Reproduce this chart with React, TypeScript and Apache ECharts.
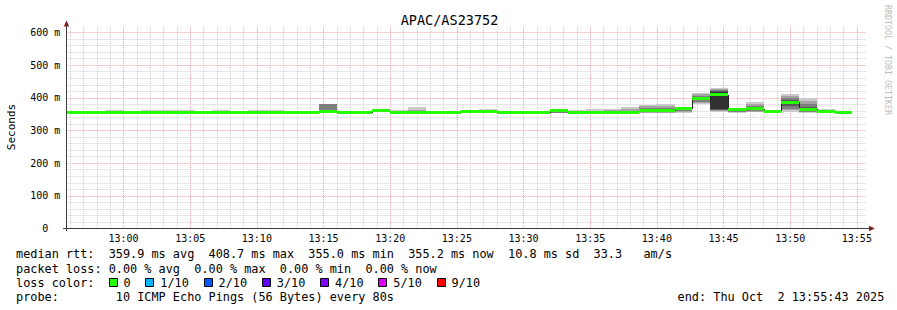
import React, { useEffect, useRef } from 'react';
import * as echarts from 'echarts';

// ---------- data ----------
const chartTitle = 'APAC/AS23752';
const axisStart = '12:55:43';
const axisEnd = '13:55:43';
const firstStepStart = '12:54:40'; // partial first step, clipped at the axis start
const stepSeconds = 80;

// median rtt per 80 s step (ms)
const medians = [
  355, 355.5, 355.5, 355.5, 355.5, 355.5, 355.5, 355, 355, 355.5, 355, 355.5, 355.5, 355, 355,
  357, 355, 355, 360, 355.5, 355.5, 355, 355, 357, 357, 355, 355, 355, 361, 356,
  355, 355, 356, 360, 361, 366, 397, 408.7, 365, 366, 359, 387, 365, 357.5, 355.2,
];

// 10 sorted ping rtts per step (ms) -> smoke
const pings = [
  [354, 355, 355, 355, 355, 355, 355, 356, 356, 357],
  [355, 355, 355, 355, 355, 356, 356, 356, 357, 358],
  [355, 355, 355, 355, 355, 356, 356, 356, 357, 358],
  [355, 355, 355, 355, 355, 356, 356, 357, 358, 362],
  [355, 355, 355, 355, 355, 356, 356, 356, 357, 358],
  [355, 355, 355, 355, 355, 356, 356, 357, 358, 362],
  [355, 355, 355, 355, 355, 356, 356, 357, 358, 362],
  [355, 355, 355, 355, 355, 356, 356, 357, 358, 362],
  [355, 355, 355, 355, 355, 355, 356, 356, 356, 357],
  [355, 355, 355, 355, 355, 356, 356, 357, 358, 362],
  [355, 355, 355, 355, 355, 355, 356, 356, 356, 357],
  [355, 355, 355, 355, 355, 356, 356, 357, 358, 362],
  [355, 355, 355, 355, 355, 356, 356, 357, 358, 362],
  [355, 355, 355, 355, 355, 355, 356, 356, 356, 357],
  [355, 355, 355, 355, 355, 355, 356, 356, 356, 357],
  [355, 355, 356, 356, 357, 357, 357, 381, 381, 381],
  [355, 355, 355, 355, 355, 355, 355, 356, 356, 357],
  [355, 355, 355, 355, 355, 355, 355, 356, 356, 357],
  [357, 358, 359, 359, 360, 360, 360, 361, 362, 363],
  [355, 355, 355, 355, 355, 356, 356, 357, 360, 363],
  [355, 355, 355, 355, 355, 356, 356, 358, 362, 372],
  [355, 355, 355, 355, 355, 355, 355, 356, 356, 357],
  [355, 355, 355, 355, 355, 355, 355, 356, 356, 357],
  [355, 356, 356, 357, 357, 358, 363, 363, 363, 363],
  [355, 355, 356, 356, 357, 357, 358, 359, 362, 367],
  [355, 355, 355, 355, 355, 355, 355, 356, 356, 357],
  [355, 355, 355, 355, 355, 355, 355, 356, 356, 357],
  [355, 355, 355, 355, 355, 355, 355, 356, 356, 357],
  [355, 355, 355, 356, 359, 363, 363, 364, 364, 365],
  [355, 355, 355, 356, 356, 356, 357, 358, 360, 363],
  [355, 355, 355, 355, 355, 355, 356, 357, 360, 367],
  [355, 355, 355, 355, 355, 355, 356, 358, 362, 367],
  [354, 355, 355, 355, 356, 356, 357, 359, 365, 373],
  [354, 355, 356, 358, 359, 361, 363, 370, 374, 377],
  [353, 354, 356, 358, 360, 362, 364, 368, 375, 380],
  [355, 357, 360, 363, 365, 367, 368, 370, 372, 373],
  [382, 384, 388, 392, 396, 398, 401, 405, 411, 415],
  [357, 360, 362, 364, 366, 418, 421, 424, 427, 430],
  [355, 356, 358, 360, 362, 366, 367, 368, 368, 369],
  [356, 358, 361, 363, 365, 367, 370, 376, 382, 387],
  [354, 355, 356, 357, 358, 360, 361, 362, 363, 364],
  [358, 362, 366, 375, 383, 390, 394, 400, 406, 411],
  [355, 356, 358, 361, 364, 366, 371, 380, 390, 401],
  [355, 355, 356, 356, 357, 358, 359, 360, 363, 367],
  [355, 355, 355, 355, 355, 355, 356, 356, 356, 357],
];

const medianColor = '#26ff00'; // loss 0 in every step
const smokeShades = ['#cacaca', '#a4a4a4', '#7e7e7e', '#585858', '#323232'];

const yMajorTicks = [0, 100, 200, 300, 400, 500, 600];
const yMinorTicks = [
  20, 40, 60, 80, 120, 140, 160, 180, 220, 240, 260, 280, 320, 340, 360, 380,
  420, 440, 460, 480, 520, 540, 560, 580,
];
const xMajorTicks = ['13:00', '13:05', '13:10', '13:15', '13:20', '13:25', '13:30', '13:35', '13:40', '13:45', '13:50', '13:55'];
const minorGridStep = 60; // one vertical minor grid line per minute

const legendRow1 = 'median rtt:  359.9 ms avg  408.7 ms max  355.0 ms min  355.2 ms now  10.8 ms sd  33.3   am/s';
const legendRow2 = 'packet loss: 0.00 % avg  0.00 % max  0.00 % min  0.00 % now';
const legendRow3 = 'loss color:';
const legendRow4 = 'probe:        10 ICMP Echo Pings (56 Bytes) every 80s';
const endText = 'end: Thu Oct  2 13:55:43 2025';
const lossLabels = ['0', '1/10', '2/10', '3/10', '4/10', '5/10', '9/10'];
const lossColors = ['#26ff00', '#00b8ff', '#0059ff', '#5e00ff', '#7e00ff', '#dd00ff', '#ff0000'];
const watermark = 'RRDTOOL / TOBI OETIKER';
const yAxisTitle = 'Seconds';

// ---------- helpers ----------
const toSec = (s: string) => {
  const p = s.split(':').map(Number);
  return p[0] * 3600 + p[1] * 60 + (p[2] || 0);
};
const fmtHM = (v: number) => {
  const h = Math.floor(v / 3600);
  const m = Math.floor((v % 3600) / 60);
  return `${h}:${m < 10 ? '0' : ''}${m}`;
};

const MONO = '"DejaVu Sans Mono", "Liberation Mono", monospace';
const MINOR_GRID = '#d0d0d0';
const MAJOR_GRID = '#eda3a3';

export default function App() {
  const ref = useRef<HTMLDivElement>(null);

  useEffect(() => {
    if (!ref.current) return;
    const chart = echarts.init(ref.current, undefined, { renderer: 'svg', width: 897, height: 310 });

    const T0 = toSec(axisStart);
    const T1 = toSec(axisEnd);
    const s0 = toSec(firstStepStart);

    const smokeData = medians.map((_, i) => {
      const st = s0 + i * stepSeconds;
      return [st, st + stepSeconds, ...pings[i]];
    });
    const medianData = medians.map((m, i) => {
      const st = s0 + i * stepSeconds;
      return [st, st + stepSeconds, m];
    });

    const xMinor: number[] = [];
    for (let t = Math.ceil(T0 / minorGridStep) * minorGridStep; t < T1; t += minorGridStep) {
      if (t % 300 !== 0) xMinor.push(t);
    }
    const xMajor = xMajorTicks.map(toSec);

    const GRID_LEFT = 66.4;
    const GRID_TOP = 27;
    const GRID_W = 800;
    const GRID_H = 201.5;
    const YMAX = (600 * GRID_H) / 196;

    const CW = 7.134; // legend char advance
    const legendFont = `11.85px ${MONO}`;
    const rowY = [254.4, 268.6, 282.8, 297.0];

    const lossGraphics: any[] = [];
    let sqX = 108.5;
    lossLabels.forEach((lab, i) => {
      lossGraphics.push({
        type: 'rect', z: 100,
        shape: { x: Math.round(sqX) + 0.5, y: 278.5, width: 8, height: 8 },
        style: { fill: lossColors[i], stroke: '#000', lineWidth: 1 },
      });
      lossGraphics.push({
        type: 'text', z: 100, x: sqX + 15, y: rowY[2],
        style: { text: lab, font: legendFont, fill: '#000', textAlign: 'left', textVerticalAlign: 'middle', verticalAlign: 'middle' },
      });
      sqX += 29.7 + lab.length * CW;
    });

    const txt = (text: string, x: number, y: number, extra: any = {}) => ({
      type: 'text', z: 100, x, y,
      style: { text, font: legendFont, fill: '#000', textAlign: 'left', textVerticalAlign: 'middle', verticalAlign: 'middle', ...extra },
    });

    const option: any = {
      animation: false,
      backgroundColor: '#ffffff',
      grid: { left: GRID_LEFT, top: GRID_TOP, width: GRID_W, height: GRID_H, containLabel: false },
      xAxis: [
        {
          type: 'value', min: T0, max: T1, position: 'bottom',
          axisLine: { show: false },
          axisTick: { show: false, customValues: xMinor },
          axisLabel: { show: false, customValues: xMinor },
          splitLine: { show: true, lineStyle: { color: MINOR_GRID, width: 1, type: [1, 1] } },
        },
        {
          type: 'value', min: T0, max: T1, position: 'bottom',
          axisLine: { show: false },
          axisTick: { show: false, customValues: xMajor },
          axisLabel: {
            show: true, customValues: xMajor, margin: 5,
            formatter: (v: number) => fmtHM(v),
            color: '#000', fontFamily: MONO, fontSize: 10,
          },
          splitLine: { show: true, lineStyle: { color: MAJOR_GRID, width: 1, type: [1, 1] } },
        },
      ],
      yAxis: [
        {
          type: 'value', min: 0, max: YMAX, position: 'left',
          axisLine: { show: false },
          axisTick: { show: false, customValues: yMinorTicks },
          axisLabel: { show: false, customValues: yMinorTicks },
          splitLine: { show: true, lineStyle: { color: MINOR_GRID, width: 1, type: [1, 1] } },
        },
        {
          type: 'value', min: 0, max: YMAX, position: 'left',
          axisLine: { show: false },
          axisTick: { show: false, customValues: yMajorTicks },
          axisLabel: {
            show: true, customValues: yMajorTicks, margin: 6,
            formatter: (v: number) => (v === 0 ? '{z|0}' : `${v} m`),
            color: '#000', fontFamily: MONO, fontSize: 10,
            rich: { z: { fontFamily: MONO, fontSize: 10, color: '#000', padding: [0, 12, 0, 0] } },
          },
          splitLine: { show: true, lineStyle: { color: MAJOR_GRID, width: 1, type: [1, 1] } },
        },
      ],
      series: [
        {
          type: 'custom', name: 'smoke', xAxisIndex: 1, yAxisIndex: 1, silent: true, clip: true, z: 2,
          encode: { x: [0, 1], y: [2, 3, 4, 5, 6, 7, 8, 9, 10, 11] },
          data: smokeData,
          renderItem: (params: any, api: any) => {
            const cs = params.coordSys;
            const s = api.value(0), e = api.value(1);
            const x0 = Math.max(Math.round(api.coord([s, 0])[0]), Math.round(cs.x));
            const x1 = Math.round(api.coord([e, 0])[0]);
            const children: any[] = [];
            for (let i = 0; i < 5; i++) {
              const lo = api.value(2 + i);
              const hi = api.value(11 - i);
              const yTop = Math.round(api.coord([s, hi])[1]);
              const yBot = Math.round(api.coord([s, lo])[1]);
              if (yBot > yTop) {
                children.push({
                  type: 'rect',
                  shape: { x: x0, y: yTop, width: x1 - x0, height: yBot - yTop },
                  style: { fill: smokeShades[i], stroke: null },
                });
              }
            }
            return { type: 'group', children };
          },
        },
        {
          type: 'custom', name: 'median', xAxisIndex: 1, yAxisIndex: 1, silent: true, clip: true, z: 3,
          encode: { x: [0, 1], y: 2 },
          data: medianData,
          renderItem: (params: any, api: any) => {
            const cs = params.coordSys;
            const s = api.value(0), e = api.value(1), m = api.value(2);
            const x0 = Math.max(Math.round(api.coord([s, 0])[0]), Math.round(cs.x));
            const x1 = Math.round(api.coord([e, 0])[0]);
            const yc = api.coord([s, m])[1];
            const children: any[] = [];
            if (params.dataIndexInside > 0) {
              const pm = api.value(2, params.dataIndexInside - 1);
              const yp = api.coord([s, pm])[1];
              if (Math.abs(yp - yc) > 0.5) {
                children.push({
                  type: 'line',
                  shape: { x1: x0 + 0.5, y1: Math.round(yp), x2: x0 + 0.5, y2: Math.round(yc) },
                  style: { stroke: '#202020', lineWidth: 1 },
                });
              }
            }
            children.push({
              type: 'rect',
              shape: { x: x0, y: Math.round(yc - 1.5), width: x1 - x0, height: 3 },
              style: { fill: medianColor, stroke: null },
            });
            return { type: 'group', children };
          },
        },
      ],
      graphic: [
        // axes
        { type: 'line', z: 100, shape: { x1: 63, y1: 228.5, x2: 870, y2: 228.5 }, style: { stroke: '#404040', lineWidth: 1 } },
        { type: 'line', z: 100, shape: { x1: 66.5, y1: 231, x2: 66.5, y2: 25 }, style: { stroke: '#404040', lineWidth: 1 } },
        { type: 'polygon', z: 101, shape: { points: [[63.8, 26.5], [69.2, 26.5], [66.5, 20.5]] }, style: { fill: '#7f1f1f' } },
        { type: 'polygon', z: 101, shape: { points: [[869, 225.8], [869, 231.2], [874.8, 228.5]] }, style: { fill: '#7f1f1f' } },
        // title
        {
          type: 'text', z: 100, x: 449.5, y: 19.5,
          style: { text: chartTitle, font: `13.5px ${MONO}`, fill: '#000', textAlign: 'center', textVerticalAlign: 'middle', align: 'center', verticalAlign: 'middle' },
        },
        // y axis title
        {
          type: 'text', z: 100, x: 11.5, y: 127, rotation: Math.PI / 2,
          style: { text: yAxisTitle, font: `11px ${MONO}`, fill: '#000', textAlign: 'center', textVerticalAlign: 'middle', align: 'center', verticalAlign: 'middle' },
        },
        // watermark
        {
          type: 'text', z: 100, x: 888, y: 60, rotation: -Math.PI / 2,
          style: { text: watermark, font: `8.3px ${MONO}`, fill: '#bdbdbd', textAlign: 'center', textVerticalAlign: 'middle', align: 'center', verticalAlign: 'middle' },
        },
        // legend
        txt(legendRow1, 16, rowY[0]),
        txt(legendRow2, 16, rowY[1]),
        txt(legendRow3, 16, rowY[2]),
        txt(legendRow4, 16, rowY[3]),
        txt(endText, 677.6, rowY[3]),
        ...lossGraphics,
      ],
    };

    chart.setOption(option);
    return () => chart.dispose();
  }, []);

  return (
    <div
      ref={ref}
      style={{ position: 'absolute', left: 0, top: 0, width: 897, height: 310, background: '#fff' }}
    />
  );
}
